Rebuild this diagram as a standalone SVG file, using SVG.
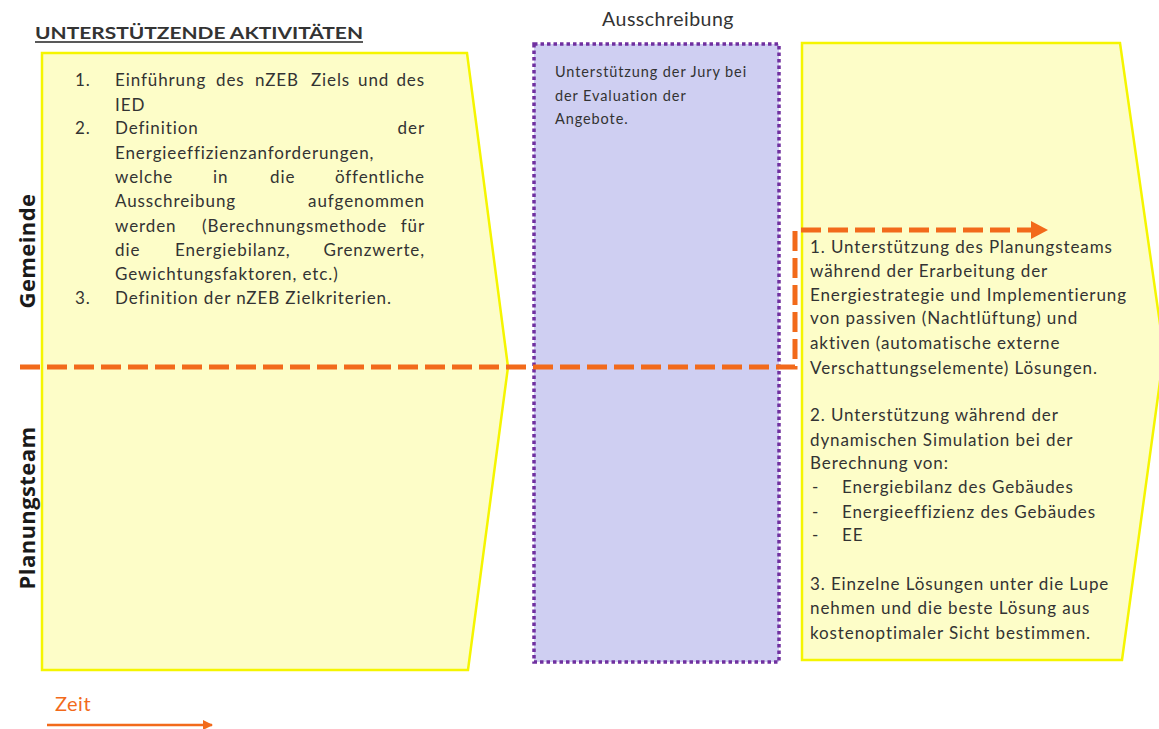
<svg xmlns="http://www.w3.org/2000/svg" width="1159" height="729" viewBox="0 0 1159 729">
<style>
.t{font-family:Lato,"Liberation Sans",sans-serif;fill:#333;}
.body{font-size:17px;letter-spacing:0.9px;}
.small{font-size:14.5px;letter-spacing:0.9px;}
.lane{font-family:"Open Sans","Liberation Sans",sans-serif;font-weight:bold;font-size:22px;fill:#1a1a1a;letter-spacing:0.4px;}
.phase{fill:#fdfdc8;stroke:#f5f500;stroke-width:2.5;}
.dash{fill:none;stroke:#f26a1b;stroke-width:5;stroke-dasharray:20 7;}
</style>
<defs>
<marker id="ah" markerWidth="10" markerHeight="10" refX="9" refY="5" orient="auto" markerUnits="userSpaceOnUse" viewBox="0 0 10 10">
<path d="M0,0 L10,5 L0,10 z" fill="#f26a1b"/>
</marker>
</defs>
<rect width="1159" height="729" fill="#ffffff"/>

<text class="t" x="35" y="39" font-size="17.5" font-weight="bold" fill="#222" textLength="328" lengthAdjust="spacingAndGlyphs">UNTERSTÜTZENDE AKTIVITÄTEN</text>
<line x1="35" y1="42" x2="363" y2="42" stroke="#222" stroke-width="1.5"/>

<g id="phase1">
<polygon class="phase" points="42,53 467,53 508,367 468,670 42,670"/>
<g class="t body">
<text x="75" y="86">1.</text>
<text y="86"><tspan x="115">Einführung</tspan><tspan x="216">des</tspan><tspan x="255">nZEB</tspan><tspan x="311">Ziels</tspan><tspan x="358">und</tspan></text>
<text x="425" y="86" text-anchor="end">des</text>
<text x="115" y="111">IED</text>
<text x="75" y="134">2.</text>
<text x="115" y="134">Definition</text>
<text x="425" y="134" text-anchor="end">der</text>
<text x="115" y="159">Energieeffizienzanforderungen,</text>
<text y="183"><tspan x="115">welche</tspan><tspan x="213">in</tspan><tspan x="270">die</tspan></text>
<text x="425" y="183" text-anchor="end">öffentliche</text>
<text x="115" y="207">Ausschreibung</text>
<text x="425" y="207" text-anchor="end">aufgenommen</text>
<text y="232"><tspan x="115">werden</tspan><tspan x="202">(Berechnungsmethode</tspan></text>
<text x="425" y="232" text-anchor="end">für</text>
<text y="256"><tspan x="115">die</tspan><tspan x="175">Energiebilanz,</tspan></text>
<text x="425" y="256" text-anchor="end">Grenzwerte,</text>
<text x="115" y="280">Gewichtungsfaktoren, etc.)</text>
<text x="75" y="304">3.</text>
<text x="115" y="304">Definition der nZEB Zielkriterien.</text>
</g>
</g>

<g id="phase2">
<text class="t" x="668" y="26" font-size="19.5" letter-spacing="0.5" text-anchor="middle">Ausschreibung</text>
<rect x="534" y="44" width="245" height="618" fill="#cfcff2" stroke="#7030a0" stroke-width="3.5" stroke-dasharray="3.5 3"/>
<g class="t small">
<text x="555" y="77">Unterstützung der Jury bei</text>
<text x="555" y="101">der Evaluation der</text>
<text x="555" y="124">Angebote.</text>
</g>
</g>

<g id="phase3">
<polygon class="phase" points="802,43 1120,43 1164,352 1122,660 802,660"/>
<g class="t body">
<text x="810" y="253">1. Unterstützung des Planungsteams</text>
<text x="810" y="277">während der Erarbeitung der</text>
<text x="810" y="301">Energiestrategie und Implementierung</text>
<text x="810" y="324">von passiven (Nachtlüftung) und</text>
<text x="810" y="349">aktiven (automatische externe</text>
<text x="810" y="374">Verschattungselemente) Lösungen.</text>
<text x="810" y="421">2. Unterstützung während der</text>
<text x="810" y="446">dynamischen Simulation bei der</text>
<text x="810" y="469">Berechnung von:</text>
<text x="812" y="493">-</text><text x="842" y="493">Energiebilanz des Gebäudes</text>
<text x="812" y="518">-</text><text x="842" y="518">Energieeffizienz des Gebäudes</text>
<text x="812" y="541">-</text><text x="842" y="541">EE</text>
<text x="810" y="590">3. Einzelne Lösungen unter die Lupe</text>
<text x="810" y="614">nehmen und die beste Lösung aus</text>
<text x="810" y="639">kostenoptimaler Sicht bestimmen.</text>
</g>
</g>

<g id="lanes">
<text class="lane" transform="translate(35,251) rotate(-90)" text-anchor="middle">Gemeinde</text>
<text class="lane" transform="translate(35,508) rotate(-90)" text-anchor="middle">Planungsteam</text>
</g>

<g id="connectors">
<polyline class="dash" points="20,367 795,367 795,230 1032,230"/>
<polygon points="1031,221 1048,230 1031,239" fill="#f26a1b"/>
<line x1="47" y1="725" x2="212" y2="725" stroke="#f26a1b" stroke-width="2.5" marker-end="url(#ah)"/>
</g>

<g id="legend">
<text class="t" x="55" y="711" font-size="20" letter-spacing="0.5" style="fill:#f26a1b">Zeit</text>
</g>
</svg>
